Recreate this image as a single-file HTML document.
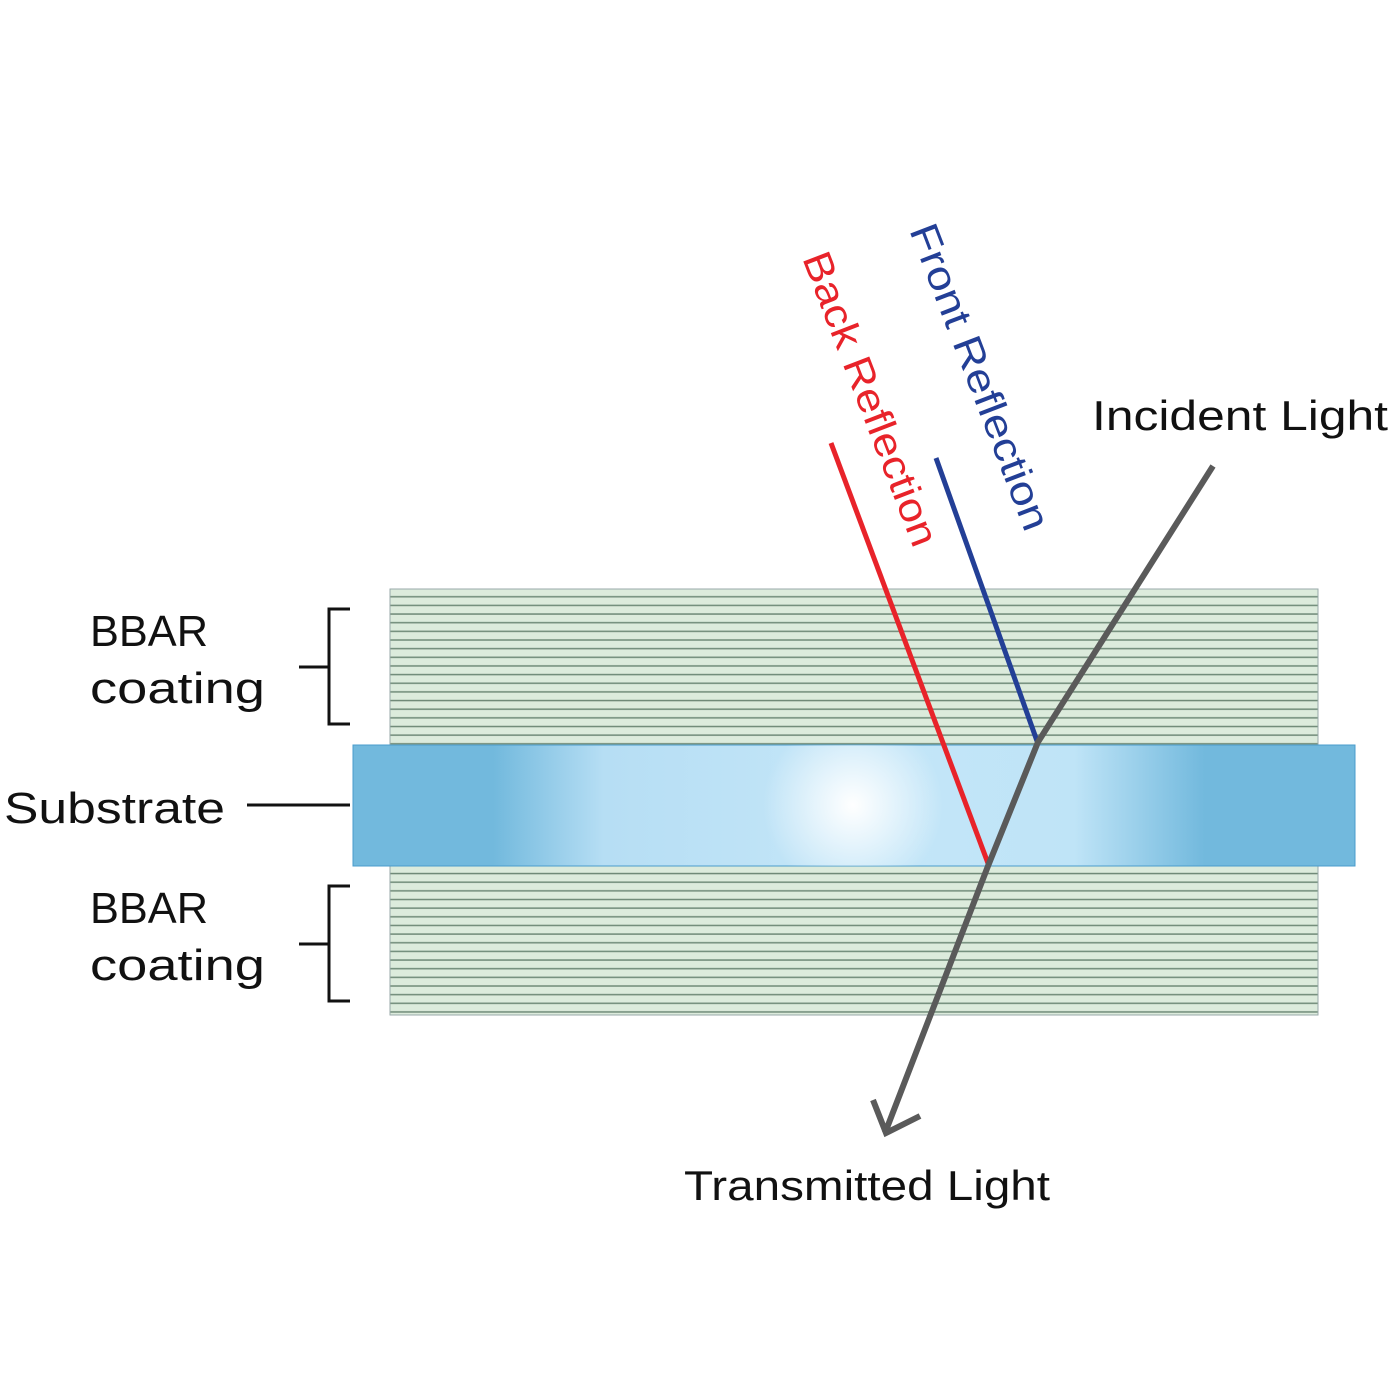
<!DOCTYPE html>
<html><head><style>
html,body{margin:0;padding:0;background:#fff;}
svg{display:block}
text{font-family:"Liberation Sans",sans-serif;}
</style></head><body>
<svg width="1400" height="1400" viewBox="0 0 1400 1400" xmlns="http://www.w3.org/2000/svg">
<defs>
<pattern id="ln" x="0" y="589" width="10" height="8.65" patternUnits="userSpaceOnUse">
<rect width="10" height="8.65" fill="#dcebdc"/>
<rect y="7" width="10" height="1.5" fill="#6f8a78"/>
</pattern>
<linearGradient id="sg" x1="0" x2="1" y1="0" y2="0">
<stop offset="0" stop-color="#72b9dd"/>
<stop offset="0.14" stop-color="#72b9dd"/>
<stop offset="0.25" stop-color="#b6def4"/>
<stop offset="0.5" stop-color="#c4e6f8"/>
<stop offset="0.72" stop-color="#bfe4f7"/>
<stop offset="0.85" stop-color="#72b9dd"/>
<stop offset="1" stop-color="#72b9dd"/>
</linearGradient>
<radialGradient id="glow" cx="853" cy="805" r="90" gradientUnits="userSpaceOnUse">
<stop offset="0" stop-color="#fff" stop-opacity="1"/>
<stop offset="1" stop-color="#fff" stop-opacity="0"/>
</radialGradient>
</defs>
<rect x="390" y="589" width="928" height="156" fill="url(#ln)" stroke="#9aa" stroke-width="1"/>
<rect x="390" y="866" width="928" height="149" fill="url(#ln)" stroke="#9aa" stroke-width="1"/>
<rect x="353" y="745" width="1002" height="121" fill="url(#sg)" stroke="#4a9ccc" stroke-width="1"/>
<rect x="353" y="745" width="1002" height="121" fill="url(#glow)"/>
<line x1="831" y1="443" x2="989" y2="866" stroke="#e8232a" stroke-width="5"/>
<line x1="936" y1="458" x2="1037" y2="741" stroke="#233f96" stroke-width="5"/>
<polyline points="1213,466 1038,742 988,866 885,1133" fill="none" stroke="#5a5a5a" stroke-width="6"/>
<polyline points="873,1100 886,1133 920,1116" fill="none" stroke="#5a5a5a" stroke-width="6"/>
<text x="0" y="0" font-size="40" fill="#e8232a" textLength="312" lengthAdjust="spacingAndGlyphs" transform="translate(802,258) rotate(69)">Back Reflection</text>
<text x="0" y="0" font-size="40" fill="#233f96" textLength="325" lengthAdjust="spacingAndGlyphs" transform="translate(909,230) rotate(69)">Front Reflection</text>
<text x="1092" y="430" font-size="42" fill="#111" textLength="296" lengthAdjust="spacingAndGlyphs">Incident Light</text>
<text x="684" y="1200" font-size="42" fill="#111" textLength="366" lengthAdjust="spacingAndGlyphs">Transmitted Light</text>
<text x="90" y="646" font-size="44" fill="#111" textLength="118" lengthAdjust="spacingAndGlyphs">BBAR</text>
<text x="90" y="703" font-size="44" fill="#111" textLength="175" lengthAdjust="spacingAndGlyphs">coating</text>
<text x="90" y="923" font-size="44" fill="#111" textLength="118" lengthAdjust="spacingAndGlyphs">BBAR</text>
<text x="90" y="980" font-size="44" fill="#111" textLength="175" lengthAdjust="spacingAndGlyphs">coating</text>
<text x="4" y="823" font-size="44" fill="#111" textLength="221" lengthAdjust="spacingAndGlyphs">Substrate</text>
<line x1="247" y1="805" x2="350" y2="805" stroke="#111" stroke-width="3"/>
<polyline points="350,609 329,609 329,724 350,724" fill="none" stroke="#111" stroke-width="3"/>
<line x1="299" y1="667" x2="329" y2="667" stroke="#111" stroke-width="3"/>
<polyline points="350,886 329,886 329,1001 350,1001" fill="none" stroke="#111" stroke-width="3"/>
<line x1="299" y1="944" x2="329" y2="944" stroke="#111" stroke-width="3"/>
</svg>
</body></html>
